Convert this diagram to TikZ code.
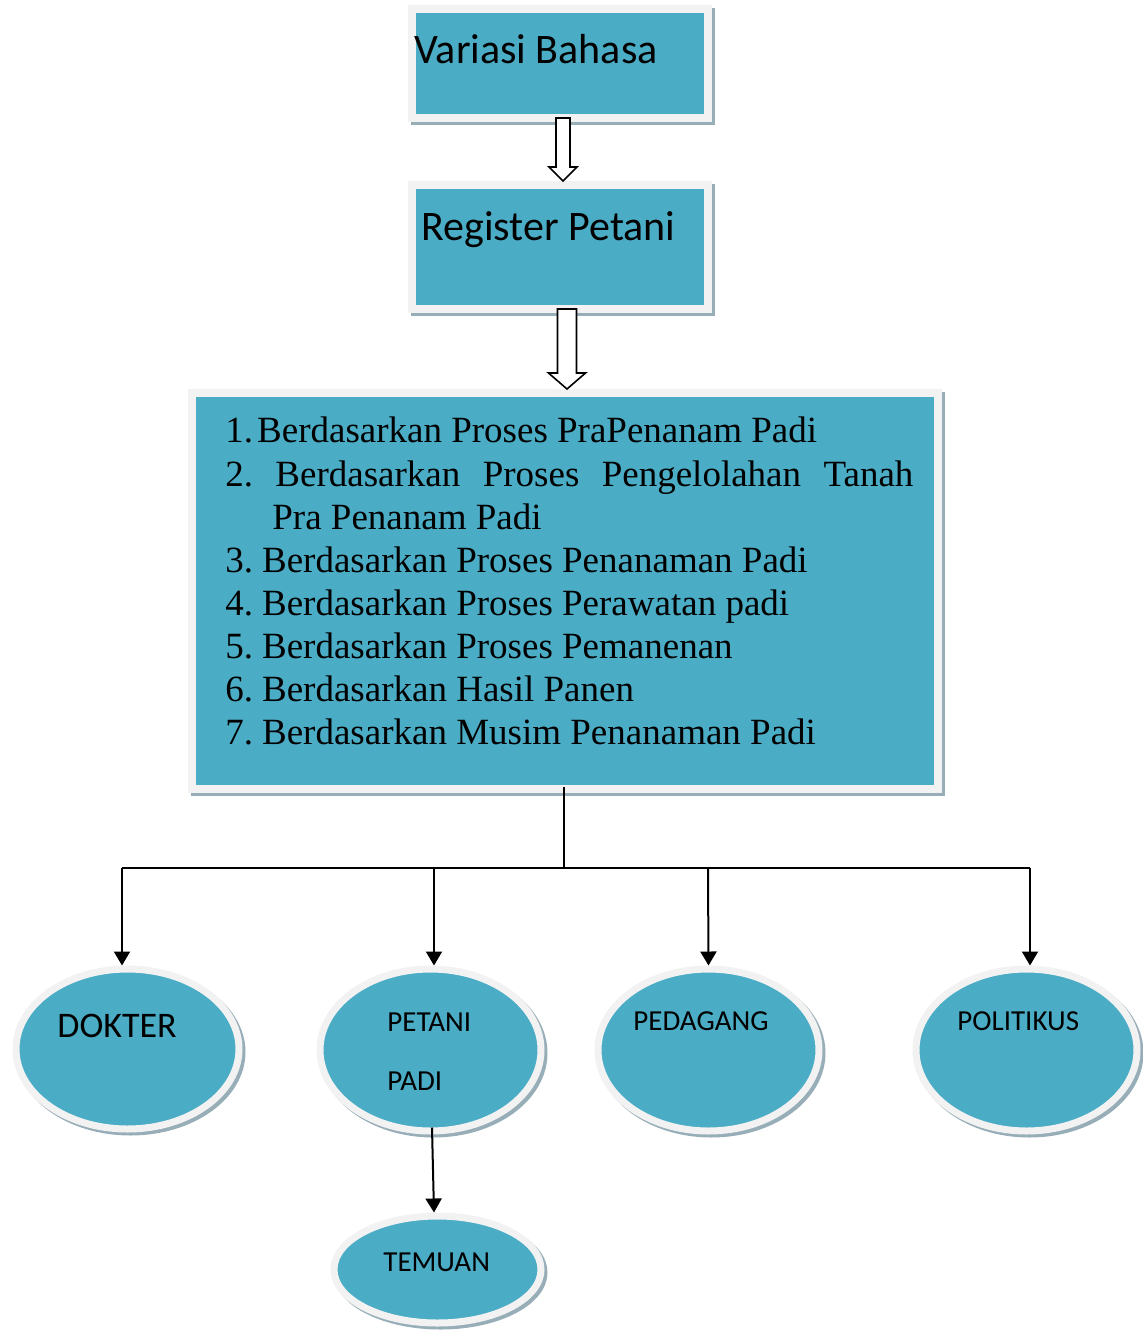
\documentclass[tikz,border=0pt]{standalone}
\usepackage{fontspec}
\setmainfont{Liberation Serif}
\newfontfamily\calfont{Carlito}
\usetikzlibrary{arrows.meta,calc,shapes.geometric}
\definecolor{acc}{HTML}{4BACC6}
\definecolor{frm}{HTML}{F2F2F2}
\definecolor{shd}{HTML}{97AEB8}
\newcommand\blockarrow[5]{%
  \draw[blk] let \p1=(#1), \p2=(#2) in
    (\x1-#3,\y1) -- (\x1+#3,\y1) -- (\x1+#3,\y2+#5) -- (\x1+#4,\y2+#5) --
    (\x1,\y2) -- (\x1-#4,\y2+#5) -- (\x1-#3,\y2+#5) -- cycle;}
\begin{document}
\frenchspacing
\begin{tikzpicture}[x=0.5pt,y=-0.5pt,
  box/.style={rectangle, fill=acc, draw=frm, line width=4pt, inner sep=0pt,
    preaction={fill=shd, draw=shd, transform canvas={shift={(1.5pt,-1.5pt)}}}},
  bubble/.style={ellipse, fill=acc, draw=frm, line width=3.5pt, inner sep=0pt,
    preaction={fill=shd, draw=shd, transform canvas={shift={(1.5pt,-1.5pt)}}}},
  ct/.style={anchor=base west, inner sep=0pt, font=\calfont\fontsize{14.5}{17}\selectfont},
  lt/.style={anchor=base west, inner sep=0pt, font=\fontsize{18.5}{22}\selectfont},
  blk/.style={draw=black, fill=white, line width=0.8pt, line join=miter},
  ln/.style={draw=black, line width=1pt},
  arr/.style={ln, -{Triangle[width=8pt,length=7pt]}}
]
\useasboundingbox (0,0) rectangle (1143,1330);
% boxes
\node[box, minimum width=148pt, minimum height=54.5pt] (v) at (560,63.5) {};
\node[box, minimum width=148pt, minimum height=62pt] (r) at (560,247) {};
\node[box, minimum width=373pt, minimum height=198pt] (l) at (565,591) {};
% ellipses
\node[bubble, minimum width=111.5pt, minimum height=80pt] (dok) at (127.5,1049) {};
\node[bubble, minimum width=110.5pt, minimum height=81pt] (pet) at (430.5,1050) {};
\node[bubble, minimum width=110.5pt, minimum height=81pt] (ped) at (708.5,1050) {};
\node[bubble, minimum width=110.5pt, minimum height=81pt] (pol) at (1026.5,1050) {};
\node[bubble, minimum width=103.5pt, minimum height=53.5pt] (tem) at (437.5,1269.5) {};
% box texts
\node[ct, font=\calfont\fontsize{21}{25}\selectfont] (tv) at (414,63) {Variasi Bahasa};
\node[ct, font=\calfont\fontsize{21}{25}\selectfont] (tr) at (421,240) {Register Petani};
\node[lt] (t1) at (225,442) {1.\kern2pt Berdasarkan Proses PraPenanam Padi};
\node[lt] (t2) at (225,486) {\makebox[344pt][s]{2. Berdasarkan Proses Pengelolahan Tanah}};
\node[lt] (t2b) at (272,529) {Pra Penanam Padi};
\node[lt] (t3) at (225,572) {3.\kern4.5pt Berdasarkan Proses Penanaman Padi};
\node[lt] (t4) at (225,615) {4.\kern4.5pt Berdasarkan Proses Perawatan padi};
\node[lt] (t5) at (225,658) {5.\kern4.5pt Berdasarkan Proses Pemanenan};
\node[lt] (t6) at (225,701) {6.\kern4.5pt Berdasarkan Hasil Panen};
\node[lt] (t7) at (225,744) {7.\kern4.5pt Berdasarkan Musim Penanaman Padi};
% ellipse texts
\node[ct, font=\calfont\fontsize{18}{21}\selectfont] (tdok) at (57,1037) {DOKTER};
\node[ct] (tpet) at (387,1031) {PETANI};
\node[ct] (tpadi) at (387,1090) {PADI};
\node[ct] (tped) at (633,1030) {PEDAGANG};
\node[ct] (tpol) at (957,1030) {POLITIKUS};
\node[ct] (ttem) at (383,1271) {TEMUAN};
% block arrows
\blockarrow{$(v.south)+(1.5pt,2pt)$}{r.north}{3.5pt}{7pt}{7pt}
\blockarrow{$(r.south)+(3.5pt,2pt)$}{l.north}{4.75pt}{9.25pt}{8pt}
% tree connectors
\coordinate (h1) at (122,868);
\coordinate (h2) at (434,868);
\coordinate (h3) at (708,868);
\coordinate (h4) at (1030,868);
\coordinate (top) at ($(l.south)+(-0.5pt,3pt)$);
\draw[ln] (top) -- (top |- h1);
\draw[ln] (h1) -- (h4);
\draw[arr] (h1) -- (h1 |- dok.north);
\draw[arr] (h2) -- (h2 |- pet.north);
\draw[arr] (h3) -- (ped.north);
\draw[arr] (h4) -- (h4 |- pol.north);
\draw[arr] ($(pet.south)+(0.75pt,3.5pt)$) -- ($(tem.north)+(-1.75pt,0)$);
\end{tikzpicture}
\end{document}
